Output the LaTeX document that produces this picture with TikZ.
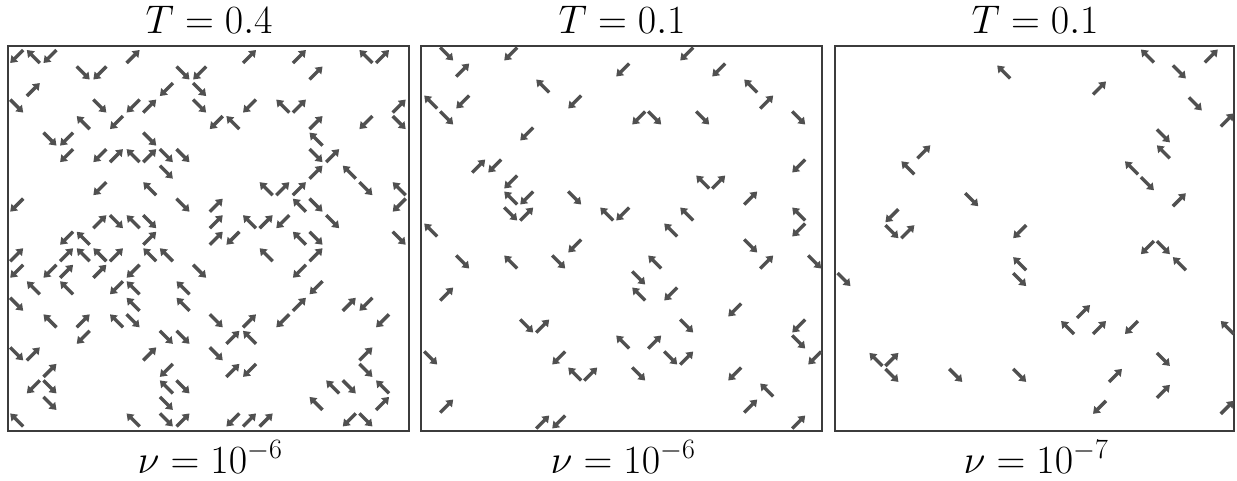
\RequirePackage{fix-cm}
\documentclass[tikz,border=0pt]{standalone}
\usetikzlibrary{arrows.meta}
\definecolor{arrgray}{RGB}{80,80,80}
\definecolor{framegray}{RGB}{60,60,60}
\tikzset{
  arr/.style={draw=arrgray, fill=arrgray, line width=3.4pt, -{Triangle[length=6.5pt,width=9pt]}},
  frame/.style={draw=framegray, line width=1.1pt},
  lbl/.style={font=\fontsize{40}{44}\selectfont, inner sep=0pt, anchor=base}
}
\begin{document}
\begin{tikzpicture}[x=1pt,y=-1pt]
\useasboundingbox (0,0) rectangle (1237,480);
% frames
\draw[frame] (8,46) rectangle (409,431);
\draw[frame] (421,46) rectangle (822,431);
\draw[frame] (835,46) rectangle (1234,431);
% labels
\node[lbl] (t1) at (209,33) {$T=0.4$};
\node[lbl] (t2) at (622,33) {$T=0.1$};
\node[lbl] (t3) at (1035,33) {$T=0.1$};
\node[lbl] (b1) at (210,473.5) {$\nu=10^{-6}$};
\node[lbl] (b2) at (623,473.5) {$\nu=10^{-6}$};
\node[lbl] (b3) at (1036,473.5) {$\nu=10^{-7}$};
% panel 1  (SE=45, SW=135, NW=225, NE=315)
\foreach \i/\j/\a in {
0/0/135,1/0/225,2/0/135,7/0/315,14/0/315,17/0/315,21/0/225,22/0/315,
4/1/45,5/1/135,10/1/45,11/1/135,18/1/315,
1/2/315,9/2/135,11/2/45,
0/3/45,5/3/45,7/3/135,8/3/315,11/3/45,14/3/135,16/3/225,17/3/315,23/3/315,
4/4/225,6/4/135,12/4/135,13/4/225,18/4/315,21/4/135,23/4/45,
2/5/45,3/5/135,8/5/45,18/5/225,
3/6/135,5/6/135,6/6/315,7/6/225,8/6/315,9/6/45,10/6/45,18/6/45,19/6/315,
9/7/45,18/7/315,20/7/225,
5/8/135,8/8/225,15/8/225,16/8/315,17/8/315,21/8/45,23/8/225,
0/9/135,10/9/45,12/9/315,17/9/225,18/9/45,23/9/135,
5/10/315,6/10/45,7/10/225,8/10/45,12/10/315,14/10/225,15/10/315,16/10/135,19/10/45,
3/11/135,4/11/225,8/11/315,12/11/315,13/11/135,17/11/225,18/11/45,23/11/45,
0/12/315,3/12/315,4/12/225,5/12/225,6/12/315,8/12/225,9/12/225,15/12/225,18/12/315,
0/13/135,2/13/135,3/13/315,5/13/315,7/13/135,11/13/45,17/13/135,
1/14/225,3/14/225,6/14/135,7/14/225,10/14/225,18/14/135,
0/15/45,7/15/225,10/15/225,17/15/315,20/15/315,21/15/135,
2/16/225,4/16/315,6/16/225,7/16/45,12/16/45,14/16/315,16/16/135,22/16/135,
4/17/135,9/17/45,10/17/45,13/17/315,14/17/225,
0/18/45,1/18/315,8/18/315,12/18/45,21/18/315,
2/19/315,9/19/135,13/19/315,14/19/135,21/19/45,
1/20/135,2/20/45,9/20/225,10/20/45,19/20/225,20/20/45,22/20/225,
2/21/45,9/21/45,18/21/225,22/21/315,
0/22/225,7/22/225,9/22/45,10/22/315,13/22/135,14/22/315,15/22/315,20/22/135,21/22/45}
{\draw[arr, shift={({16.7+16.63*\i},{56.5+16.52*\j})}] (\a+180:9.2) -- (\a:9.2);}
% panel 2
\foreach \i/\j/\a in {
1/0/45,5/0/135,16/0/135,
2/1/315,12/1/135,18/1/135,
7/2/225,20/2/225,
0/3/225,2/3/135,9/3/135,21/3/315,
1/4/45,13/4/135,14/4/45,17/4/45,23/4/45,
6/5/135,
3/7/315,4/7/135,23/7/135,
5/8/135,17/8/225,18/8/315,
5/9/225,6/9/135,9/9/45,20/9/315,
5/10/45,6/10/315,11/10/225,12/10/135,16/10/225,23/10/225,
0/11/225,15/11/225,23/11/135,
9/12/135,20/12/45,
2/13/45,5/13/225,8/13/45,14/13/225,21/13/315,24/13/45,
13/14/45,
1/15/315,13/15/225,15/15/135,
19/16/135,
6/17/45,7/17/315,16/17/45,23/17/135,
12/18/225,14/18/315,23/18/45,
0/19/45,8/19/135,15/19/45,16/19/315,24/19/135,
9/20/225,10/20/315,13/20/45,19/20/135,
21/21/225,
1/22/315,20/22/315,
7/23/315,8/23/135,23/23/315}
{\draw[arr, shift={({430.7+16*\i},{54+16*\j})}] (\a+180:9.2) -- (\a:9.2);}
% panel 3
\foreach \i/\j/\a in {
19/0/225,23/0/315,
10/1/225,21/1/45,
16/2/315,
22/3/45,
24/4/315,
20/5/45,
5/6/315,20/6/225,
4/7/225,18/7/225,
19/8/45,
8/9/45,21/9/315,
3/10/135,
3/11/45,4/11/315,11/11/135,
19/12/135,20/12/45,
11/13/225,21/13/225,
0/14/45,11/14/45,
15/16/315,
14/17/225,16/17/315,18/17/135,24/17/225,
2/19/225,3/19/315,20/19/45,
3/20/45,7/20/45,11/20/45,17/20/315,
20/21/315,
16/22/135,24/22/315}
{\draw[arr, shift={({844+15.97*\i},{56+15.97*\j})}] (\a+180:9.2) -- (\a:9.2);}
\end{tikzpicture}
\end{document}
